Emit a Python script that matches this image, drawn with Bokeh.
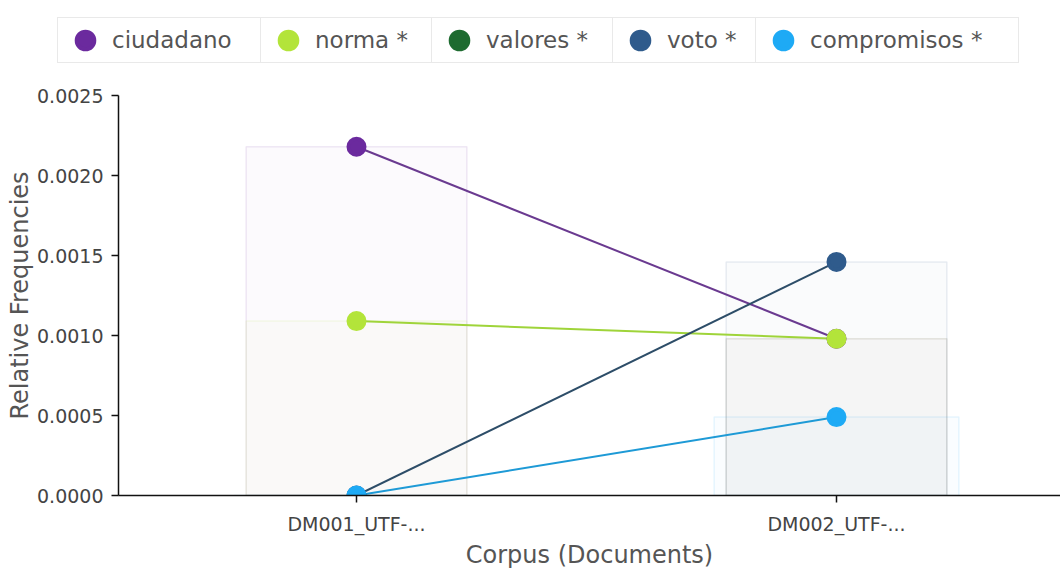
import numpy as np
from bokeh.plotting import figure
from bokeh.models import (Range1d, FixedTicker, NumeralTickFormatter, Legend, LegendItem,
                          ColumnDataSource)
from bokeh.embed import file_html
from bokeh.resources import INLINE

# ---------------- data ----------------
documents = ["DM001_UTF-...", "DM002_UTF-..."]
terms = ["ciudadano", "norma *", "valores *", "voto *", "compromisos *"]
ciudadano = [0.00218, 0.00098]
norma = [0.00109, 0.00098]
valores = [float("nan"), float("nan")]
voto = [0.0, 0.00146]
compromisos = [0.0, 0.00049]
y_ticks = [0.0, 0.0005, 0.0010, 0.0015, 0.0020, 0.0025]

series = [ciudadano, norma, valores, voto, compromisos]

# ---------------- styles ----------------
point_colors = ["#6b2a9e", "#b3e43a", "#1e6b30", "#2f5b8c", "#1eaaf5"]
line_colors = ["#6a3a90", "#9fd43a", "#1e6b30", "#2d4d68", "#1e9ad6"]
bar_widths = [0.46, 0.46, 0.46, 0.46, 0.51]
font = "DejaVu Sans"

W = 1060
LEG_H = 70                     # height of the legend strip
MAIN_H = 504                   # height of the chart below it
frame_left = 118
frame_top = 95 - LEG_H
frame_bottom = 495 - LEG_H

xs = list(np.arange(len(documents)) + 0.5)
x_start = 0.5 - (356 - frame_left) / 480
x_end = 1.5 + (W - 836) / 480

p = figure(width=W, height=MAIN_H, output_backend="svg", toolbar_location=None,
           x_range=Range1d(x_start, x_end), y_range=Range1d(y_ticks[0], y_ticks[-1]),
           min_border_left=frame_left, min_border_right=0, min_border_top=frame_top,
           min_border_bottom=MAIN_H - frame_bottom)
p.outline_line_color = None
p.xgrid.visible = False
p.ygrid.visible = False

# faint bars
for vals, col, w in zip(series, point_colors, bar_widths):
    src = ColumnDataSource(dict(x=xs, top=vals))
    p.vbar(x="x", top="top", width=w, source=src, fill_color=col, fill_alpha=0.022,
           line_color=col, line_alpha=0.1, line_width=1.5)

# lines
for vals, col in zip(series, line_colors):
    src = ColumnDataSource(dict(x=xs, y=vals))
    p.line(x="x", y="y", source=src, line_color=col, line_width=2)

# points
for vals, col in zip(series, point_colors):
    src = ColumnDataSource(dict(x=xs, y=vals))
    p.scatter(x="x", y="y", source=src, size=16, fill_color=col, line_color=col,
              line_width=4)

# axes
xa = p.xaxis[0]
xa.ticker = FixedTicker(ticks=xs)
xa.major_label_overrides = {float(x): d for x, d in zip(xs, documents)}
xa.axis_label = "Corpus (Documents)"
ya = p.yaxis[0]
ya.ticker = FixedTicker(ticks=y_ticks)
ya.formatter = NumeralTickFormatter(format="0.0000")
ya.axis_label = "Relative Frequencies"
for ax in (xa, ya):
    ax.axis_line_color = "#111111"
    ax.axis_line_width = 1.5
    ax.major_tick_line_color = "#111111"
    ax.major_tick_line_width = 1.5
    ax.major_tick_out = 7
    ax.major_tick_in = 0
    ax.minor_tick_line_color = None
    ax.major_label_text_font = font
    ax.major_label_text_color = "#444444"
    ax.major_label_text_font_size = "19px"
    ax.axis_label_text_font = font
    ax.axis_label_text_font_size = "24px"
    ax.axis_label_text_font_style = "normal"
    ax.axis_label_text_color = "#555555"
xa.major_label_standoff = 10
xa.axis_label_standoff = 3
ya.major_label_standoff = 8
ya.axis_label_standoff = 0

# ---------------- legend strip ----------------
lg = figure(width=W, height=LEG_H, output_backend="svg", toolbar_location=None,
            x_range=Range1d(0, 1), y_range=Range1d(10, 11),
            x_axis_location=None, y_axis_location=None,
            min_border_left=0, min_border_right=0, min_border_top=0, min_border_bottom=0)
lg.outline_line_color = None
lg.xgrid.visible = False
lg.ygrid.visible = False

cell_lefts = [57, 260, 431, 612, 755]
cell_widths = [203, 171, 181, 143, 262]
glyph_w = 54
for vals, col, name, cl, cw in zip(series, point_colors, terms, cell_lefts, cell_widths):
    src = ColumnDataSource(dict(x=xs, y=vals))   # outside the strip's range: legend swatch only
    r = lg.scatter(x="x", y="y", source=src, size=16, fill_color=col, line_color=col,
                   line_width=4)
    leg = Legend(items=[LegendItem(label=name, renderers=[r])],
                 location=(cl, LEG_H - 63),
                 orientation="horizontal", padding=0, margin=0, spacing=0,
                 glyph_width=glyph_w, glyph_height=44, label_standoff=0,
                 label_width=cw - glyph_w, label_height=44,
                 label_text_font=font, label_text_font_size="23px",
                 label_text_color="#555555",
                 border_line_color="#d4d4d4", border_line_width=1.5,
                 background_fill_color="white", background_fill_alpha=1.0)
    lg.add_layout(leg)

open("out.html", "w").write(file_html([lg, p], INLINE))
